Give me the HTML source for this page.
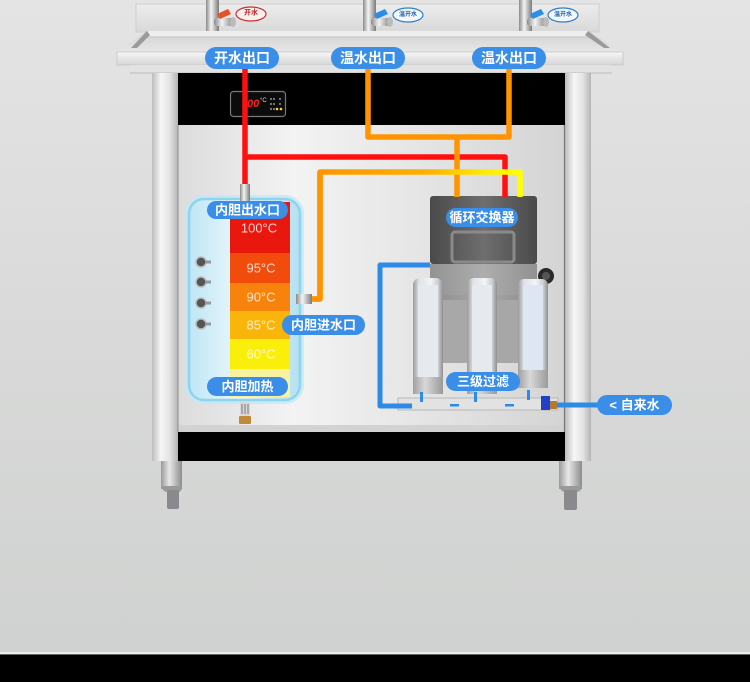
<!DOCTYPE html>
<html><head><meta charset="utf-8"><style>
html,body{margin:0;padding:0;width:750px;height:682px;overflow:hidden;}
svg{display:block;}
text{font-family:"Liberation Sans","Noto Sans CJK SC",sans-serif;}
</style></head><body>
<svg width="750" height="682" viewBox="0 0 750 682" xmlns="http://www.w3.org/2000/svg">
<defs>
<linearGradient id="bg" x1="0" y1="0" x2="0" y2="1"><stop offset="0" stop-color="#e4e4e4"/><stop offset="0.5" stop-color="#d8d9d8"/><stop offset="1" stop-color="#cfd1d0"/></linearGradient>
<linearGradient id="pil" x1="0" y1="0" x2="1" y2="0"><stop offset="0" stop-color="#bdbdbd"/><stop offset="0.35" stop-color="#f6f6f6"/><stop offset="0.7" stop-color="#e2e2e2"/><stop offset="1" stop-color="#b4b4b4"/></linearGradient>
<linearGradient id="panel" x1="0" y1="0" x2="1" y2="0"><stop offset="0" stop-color="#dcdcdc"/><stop offset="0.3" stop-color="#f3f3f3"/><stop offset="0.65" stop-color="#e4e4e4"/><stop offset="1" stop-color="#d4d4d4"/></linearGradient>
<linearGradient id="front" x1="0" y1="0" x2="0" y2="1"><stop offset="0" stop-color="#f6f6f6"/><stop offset="1" stop-color="#d6d6d6"/></linearGradient>
<linearGradient id="floor" x1="0" y1="0" x2="0" y2="1"><stop offset="0" stop-color="#d2d2d2"/><stop offset="1" stop-color="#e6e6e6"/></linearGradient>
<linearGradient id="splash" x1="0" y1="0" x2="0" y2="1"><stop offset="0" stop-color="#ececec"/><stop offset="1" stop-color="#d9d9d9"/></linearGradient>
<linearGradient id="leg" x1="0" y1="0" x2="1" y2="0"><stop offset="0" stop-color="#9a9a9a"/><stop offset="0.4" stop-color="#e8e8e8"/><stop offset="1" stop-color="#8c8c8c"/></linearGradient>
<linearGradient id="tank" x1="0" y1="0" x2="1" y2="0"><stop offset="0" stop-color="#bfe6f5"/><stop offset="0.45" stop-color="#eaf7fc"/><stop offset="1" stop-color="#b5e0f2"/></linearGradient>
<linearGradient id="oy" x1="0" y1="0" x2="1" y2="0"><stop offset="0" stop-color="#ff9500"/><stop offset="0.55" stop-color="#ffb000"/><stop offset="0.85" stop-color="#ffee00"/><stop offset="1" stop-color="#ffff00"/></linearGradient>
<linearGradient id="exch" x1="0" y1="0" x2="1" y2="0"><stop offset="0" stop-color="#4a4a4a"/><stop offset="0.5" stop-color="#6e6e6e"/><stop offset="1" stop-color="#4a4a4a"/></linearGradient>
<linearGradient id="exch2" x1="0" y1="0" x2="1" y2="0"><stop offset="0" stop-color="#8a8a8a"/><stop offset="0.5" stop-color="#a8a8a8"/><stop offset="1" stop-color="#8a8a8a"/></linearGradient>
<linearGradient id="filt" x1="0" y1="0" x2="1" y2="0"><stop offset="0" stop-color="#9a9a9a"/><stop offset="0.2" stop-color="#dfe3e6"/><stop offset="0.6" stop-color="#f2f4f6"/><stop offset="0.85" stop-color="#c8ccd0"/><stop offset="1" stop-color="#8e8e8e"/></linearGradient>
<linearGradient id="fbot" x1="0" y1="0" x2="1" y2="0"><stop offset="0" stop-color="#a0a0a0"/><stop offset="0.4" stop-color="#d8d8d8"/><stop offset="1" stop-color="#9a9a9a"/></linearGradient>
<linearGradient id="chrome" x1="0" y1="0" x2="1" y2="0"><stop offset="0" stop-color="#8a8a8a"/><stop offset="0.4" stop-color="#f4f4f4"/><stop offset="1" stop-color="#7a7a7a"/></linearGradient>
</defs>

<rect x="0" y="0" width="750" height="682" fill="url(#bg)"/>
<rect x="0" y="652" width="750" height="2" fill="#ececec"/>
<rect x="0" y="654" width="750" height="1.5" fill="#666"/>
<rect x="0" y="655" width="750" height="27" fill="#000"/>

<!-- backsplash -->
<rect x="136" y="4" width="463" height="28" fill="url(#splash)" stroke="#cfcfcf"/>
<!-- faucets -->
<g>
 <rect x="206" y="0" width="13" height="32" fill="url(#chrome)"/>
 <path d="M203 31 L222 31 L224 38 L201 38 Z" fill="url(#chrome)"/>
 <rect x="214" y="18" width="20" height="8" rx="3" fill="url(#chrome)"/>
 <ellipse cx="233" cy="22" rx="3" ry="5" fill="#bbb"/>
 <path d="M217 14 L228 9 L231 14 L220 19 Z" fill="#e8502a"/>
 <ellipse cx="251" cy="14" rx="15" ry="7" fill="#f6f0f0" stroke="#c83030" stroke-width="1.2"/>
 <text x="251" y="13" font-size="7" fill="#c02020" text-anchor="middle" dominant-baseline="central" font-weight="bold">开水</text>
</g>
<g>
 <rect x="363" y="0" width="13" height="32" fill="url(#chrome)"/>
 <path d="M360 31 L379 31 L381 38 L358 38 Z" fill="url(#chrome)"/>
 <rect x="371" y="18" width="20" height="8" rx="3" fill="url(#chrome)"/>
 <ellipse cx="390" cy="22" rx="3" ry="5" fill="#bbb"/>
 <path d="M374 14 L385 9 L388 14 L377 19 Z" fill="#2a8ee8"/>
 <ellipse cx="408" cy="15" rx="15" ry="7" fill="#f4f8fb" stroke="#2f7fc4" stroke-width="1.2"/>
 <text x="408" y="15" font-size="6" fill="#1f5fa8" text-anchor="middle" dominant-baseline="central" font-weight="bold">温开水</text>
</g>
<g>
 <rect x="519" y="0" width="13" height="32" fill="url(#chrome)"/>
 <path d="M516 31 L535 31 L537 38 L514 38 Z" fill="url(#chrome)"/>
 <rect x="527" y="18" width="20" height="8" rx="3" fill="url(#chrome)"/>
 <ellipse cx="546" cy="22" rx="3" ry="5" fill="#bbb"/>
 <path d="M530 14 L541 9 L544 14 L533 19 Z" fill="#2a8ee8"/>
 <ellipse cx="563" cy="15" rx="15" ry="7" fill="#f4f8fb" stroke="#2f7fc4" stroke-width="1.2"/>
 <text x="563" y="15" font-size="6" fill="#1f5fa8" text-anchor="middle" dominant-baseline="central" font-weight="bold">温开水</text>
</g>

<!-- tray -->
<path d="M147 31 L588 31 L623 52 L117 52 Z" fill="url(#floor)"/>
<rect x="148" y="31" width="440" height="6" fill="#eeeeee"/>
<line x1="146" y1="37" x2="590" y2="37" stroke="#c4c4c4" stroke-width="1"/>
<path d="M147 31 L131 48 L137 48 L150 35 Z" fill="#9a9a9a"/>
<path d="M588 31 L610 48 L604 48 L585 35 Z" fill="#9a9a9a"/>
<rect x="117" y="52" width="506" height="13" fill="url(#front)" stroke="#c6c6c6" stroke-width="0.8"/>
<rect x="130" y="65" width="482" height="8" fill="#e2e2e2"/>
<line x1="130" y1="73" x2="612" y2="73" stroke="#bcbcbc"/>

<!-- pillars & panels -->
<rect x="152" y="73" width="26" height="388" fill="url(#pil)"/>
<rect x="565" y="73" width="26" height="388" fill="url(#pil)"/>
<rect x="178" y="73" width="387" height="52" fill="#000"/>
<rect x="178" y="125" width="387" height="307" fill="url(#panel)"/>
<rect x="178" y="425" width="387" height="7" fill="#d2d2d2"/>
<line x1="178" y1="125" x2="178" y2="432" stroke="#999" stroke-width="1.2"/>
<line x1="564.5" y1="125" x2="564.5" y2="432" stroke="#777" stroke-width="1.2"/>
<rect x="178" y="432" width="387" height="29" fill="#000"/>
<!-- legs -->
<rect x="161" y="461" width="21" height="28" fill="url(#leg)"/>
<path d="M161 486 Q163 492 167 492 L179 492 Q182 491 182 486 Z" fill="#999"/>
<rect x="167" y="490" width="12" height="19" rx="2" fill="#8a8a8e"/>
<rect x="559" y="461" width="23" height="28" fill="url(#leg)"/>
<path d="M559 486 Q561 492 565 492 L577 492 Q582 491 582 486 Z" fill="#999"/>
<rect x="564" y="490" width="13" height="20" rx="2" fill="#8a8a8e"/>

<!-- display -->
<rect x="230.5" y="91.5" width="55" height="25" rx="3" fill="#0c0c0c" stroke="#7a7a7a" stroke-width="1.2"/>
<text x="247" y="104" font-size="11" fill="#ff2020" font-style="italic" font-weight="bold" dominant-baseline="central">00</text>
<text x="260" y="101" font-size="6" fill="#ddd" dominant-baseline="central">°C</text>
<g fill="#bbb"><circle cx="271" cy="99" r="0.9"/><circle cx="274" cy="99" r="0.9"/><circle cx="280" cy="99" r="0.9"/><circle cx="271" cy="104" r="0.9"/><circle cx="274" cy="104" r="0.9"/><circle cx="280" cy="104" r="0.9"/><circle cx="271" cy="109" r="0.9"/><circle cx="274" cy="109" r="0.9"/></g>
<circle cx="277" cy="109" r="1.3" fill="#ffd23a"/><circle cx="281" cy="109" r="1.3" fill="#ffd23a"/>

<!-- tank -->
<rect x="187" y="197" width="115" height="205" rx="17" fill="none" stroke="#bfe9f8" stroke-width="4" stroke-opacity="0.8"/>
<rect x="189" y="199" width="111" height="201" rx="15" fill="url(#tank)" stroke="#8fd4ee" stroke-width="2.5"/>
<rect x="230" y="202" width="60" height="51" fill="#e8180f"/>
<rect x="230" y="253" width="60" height="30" fill="#f24c0d"/>
<rect x="230" y="283" width="60" height="28" fill="#f7820c"/>
<rect x="230" y="311" width="60" height="28" fill="#fab50a"/>
<rect x="230" y="339" width="60" height="30" fill="#faee0b"/>
<rect x="230" y="369" width="60" height="28" fill="#f6f2a0"/>
<g font-size="13" fill="#ffffff" fill-opacity="0.8" text-anchor="middle" dominant-baseline="central">
<text x="259" y="228">100°C</text>
<text x="261" y="268">95°C</text>
<text x="261" y="297">90°C</text>
<text x="261" y="325">85°C</text>
<text x="261" y="354">60°C</text>
</g>
<!-- knobs -->
<g>
 <circle cx="201" cy="262" r="5" fill="#555" stroke="#bbb" stroke-width="1.5"/><rect x="205" y="260.5" width="6" height="3" fill="#999"/>
 <circle cx="201" cy="282" r="5" fill="#555" stroke="#bbb" stroke-width="1.5"/><rect x="205" y="280.5" width="6" height="3" fill="#999"/>
 <circle cx="201" cy="303" r="5" fill="#555" stroke="#bbb" stroke-width="1.5"/><rect x="205" y="301.5" width="6" height="3" fill="#999"/>
 <circle cx="201" cy="324" r="5" fill="#555" stroke="#bbb" stroke-width="1.5"/><rect x="205" y="322.5" width="6" height="3" fill="#999"/>
</g>
<!-- heater -->
<rect x="240" y="402" width="10" height="14" fill="#d8d8d8"/>
<g stroke="#777" stroke-width="1"><line x1="242" y1="404" x2="242" y2="414"/><line x1="245" y1="404" x2="245" y2="414"/><line x1="248" y1="404" x2="248" y2="414"/></g>
<rect x="239" y="416" width="12" height="8" rx="1" fill="#c08a3a"/>

<!-- exchanger -->
<rect x="443" y="295" width="24" height="68" fill="#9a9a9a" fill-opacity="0.8"/>
<rect x="497" y="295" width="21" height="68" fill="#9a9a9a" fill-opacity="0.8"/>
<rect x="430" y="196" width="107" height="68" rx="3" fill="url(#exch)"/>
<rect x="430" y="264" width="107" height="36" fill="url(#exch2)" fill-opacity="0.9"/>
<rect x="452" y="232" width="62" height="30" rx="3" fill="none" stroke="#8a8a8a" stroke-width="3"/>
<circle cx="546" cy="276" r="8" fill="#2a2a2a"/>
<circle cx="546" cy="276" r="4" fill="#555"/>

<!-- filters -->
<g>
 <rect x="413" y="278" width="30" height="116" rx="7" fill="url(#filt)"/>
 <rect x="418" y="285" width="20" height="92" fill="#e6eaee"/>
 <rect x="413" y="377" width="30" height="17" fill="url(#fbot)"/>
 <rect x="467" y="278" width="30" height="116" rx="7" fill="url(#filt)"/>
 <rect x="472" y="285" width="20" height="92" fill="#e6eaee"/>
 <rect x="467" y="377" width="30" height="17" fill="url(#fbot)"/>
 <rect x="518" y="279" width="30" height="103" rx="6" fill="url(#filt)"/>
 <rect x="523" y="285" width="20" height="85" fill="#dde6f2"/>
 <rect x="518" y="370" width="30" height="18" fill="url(#fbot)"/>
</g>
<rect x="398" y="398" width="160" height="12" fill="#e2e2e2" stroke="#b8b8b8" stroke-width="1"/>
<g fill="#2d8be8"><rect x="420" y="392" width="3" height="10"/><rect x="474" y="392" width="3" height="10"/><rect x="527" y="390" width="3" height="10"/><rect x="450" y="404" width="9" height="2.5"/><rect x="505" y="404" width="9" height="2.5"/></g>
<path d="M541 396 L550 396 L550 410 L541 410 Z" fill="#2040c8"/>
<rect x="550" y="401" width="7" height="8" fill="#b07a30"/>

<!-- pipes -->
<g fill="none" stroke-linejoin="round" stroke-width="5.5">
 <path d="M245 68 V186 M245 157 H505 V197" stroke="#ff1010"/>
 <path d="M368 68 V137 H509 V68 M457 137 V197" stroke="#ff9400"/>
 <path d="M312 299 H320 V172 H520 V197" stroke="url(#oy)"/>
 <path d="M320 172 V299 H312" stroke="#ff9400"/>
 <path d="M430 265 H380 V406 H412" stroke="#2d8be8" stroke-width="5"/>
 <path d="M557 405 H600" stroke="#2d8be8" stroke-width="5"/>
</g>
<rect x="240" y="184" width="10" height="17" fill="url(#chrome)"/>
<rect x="296" y="294" width="16" height="10" fill="url(#chrome)"/>

<!-- labels -->
<g fill="#3a8ee8">
 <rect x="205" y="47" width="74" height="22" rx="11"/>
 <rect x="331" y="47" width="74" height="22" rx="11"/>
 <rect x="472" y="47" width="74" height="22" rx="11"/>
 <rect x="207" y="201" width="81" height="18" rx="9"/>
 <rect x="282" y="315" width="83" height="20" rx="10"/>
 <rect x="207" y="377" width="81" height="19" rx="9.5"/>
 <rect x="446" y="208" width="72" height="19" rx="9.5"/>
 <rect x="446" y="372" width="74" height="19" rx="9.5"/>
 <rect x="597" y="395" width="75" height="20" rx="10"/>
</g>
<g fill="#fff" text-anchor="middle" dominant-baseline="central" font-weight="bold">
 <text x="242" y="58" font-size="14">开水出口</text>
 <text x="368" y="58" font-size="14">温水出口</text>
 <text x="509" y="58" font-size="14">温水出口</text>
 <text x="247.5" y="210" font-size="13">内胆出水口</text>
 <text x="323.5" y="325" font-size="13">内胆进水口</text>
 <text x="247.5" y="386.5" font-size="13">内胆加热</text>
 <text x="482" y="217.5" font-size="13">循环交换器</text>
 <text x="483" y="381.5" font-size="13">三级过滤</text>
 <text x="634.5" y="405" font-size="13">&lt; 自来水</text>
</g>
</svg>
</body></html>
